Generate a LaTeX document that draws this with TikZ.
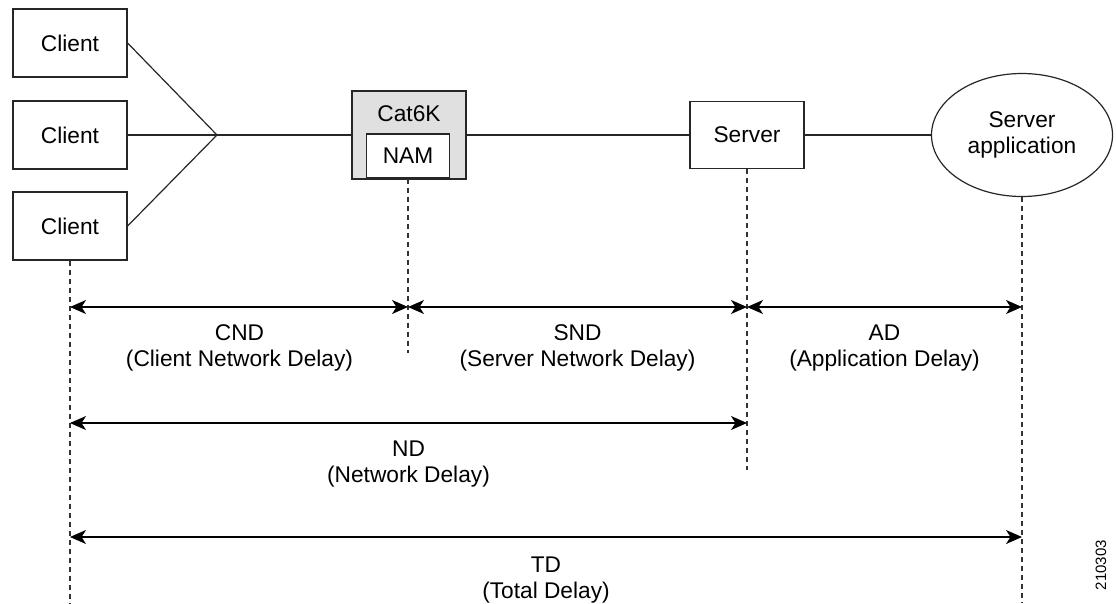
\documentclass[tikz,border=0pt]{standalone}
\usepackage{fontspec}
\setmainfont{Liberation Sans}
\usetikzlibrary{arrows.meta,shapes.geometric}

\tikzset{
  lbl/.style={font=\fontsize{22.7}{25.5}\selectfont, align=center, inner sep=0pt},
  box/.style={draw=black!85, line width=1.2pt, lbl},
  link/.style={draw=black!85, line width=1.2pt},
  guide/.style={draw=black!80, line width=1.5pt, dash pattern=on 5pt off 4pt},
  span/.style={draw=black, line width=1.3pt,
    {Stealth[length=16pt,width=14pt,inset=4.5pt]}-{Stealth[length=16pt,width=14pt,inset=4.5pt]}},
}

\begin{document}
\begin{tikzpicture}[x=1pt, y=-1pt]
\useasboundingbox (0,0) rectangle (1116,603);

% clients
\node[box, minimum width=114pt, minimum height=68pt] (c1) at (70,43) {Client};
\node[box, minimum width=114pt, minimum height=68pt] (c2) at (70,135) {Client};
\node[box, minimum width=114pt, minimum height=68pt] (c3) at (70,226) {Client};
\coordinate (hub) at (217,135);

% switch with its analysis module
\node[box, fill=black!12, minimum width=114pt, minimum height=88pt] (cat) at (409,135) {};
\node[lbl] (catlbl) at (409,114) {Cat6K};
\node[box, fill=white, minimum width=83pt, minimum height=44pt] (nam) at (408,156) {NAM};

% server side
\node[box, minimum width=114pt, minimum height=67pt] (srv) at (747,135) {Server};
\node[box, ellipse, minimum width=181pt, minimum height=123pt, inner sep=0pt] (app) at (1022,135) {Server\\application};

% links
\draw[link] (c1.east) -- (hub);
\draw[link] (c2.east) -- (hub);
\draw[link] (c3.east) -- (hub);
\draw[link] (hub) -- (cat.west |- hub);
\draw[link] (cat.east |- hub) -- (srv.west);
\draw[link] (srv.east) -- (app.west);

% measurement guides
\coordinate (gc) at (70,603);
\coordinate (gn) at (408,353);
\coordinate (gs) at (747,470);
\coordinate (ga) at (1022,603);
\draw[guide] (c3.south) -- (gc);
\draw[guide] (nam.south) -- (gn);
\draw[guide] (srv.south) -- (gs);
\draw[guide] (app.south) -- (ga);

% delay spans
\coordinate (r1c) at (70,307);   \coordinate (r1n) at (408,307);
\coordinate (r1s) at (747,307);  \coordinate (r1a) at (1022,307);
\coordinate (r2c) at (70,423);   \coordinate (r2s) at (747,423);
\coordinate (r3c) at (70,537);   \coordinate (r3a) at (1022,537);
\draw[span] (r1c) -- (r1n);
\draw[span] (r1n) -- (r1s);
\draw[span] (r1s) -- (r1a);
\draw[span] (r2c) -- (r2s);
\draw[span] (r3c) -- (r3a);

\node[lbl] (cnd) at (239.5,348) {CND\\(Client Network Delay)};
\node[lbl] (snd) at (577.5,348) {SND\\(Server Network Delay)};
\node[lbl] (ad)  at (884.5,348) {AD\\(Application Delay)};
\node[lbl] (nd)  at (408.5,464) {ND\\(Network Delay)};
\node[lbl] (td)  at (546,580) {TD\\(Total Delay)};

\node[font=\fontsize{15}{17}\selectfont, rotate=90, inner sep=0pt] (fig) at (1101,565) {210303};
\end{tikzpicture}
\end{document}
